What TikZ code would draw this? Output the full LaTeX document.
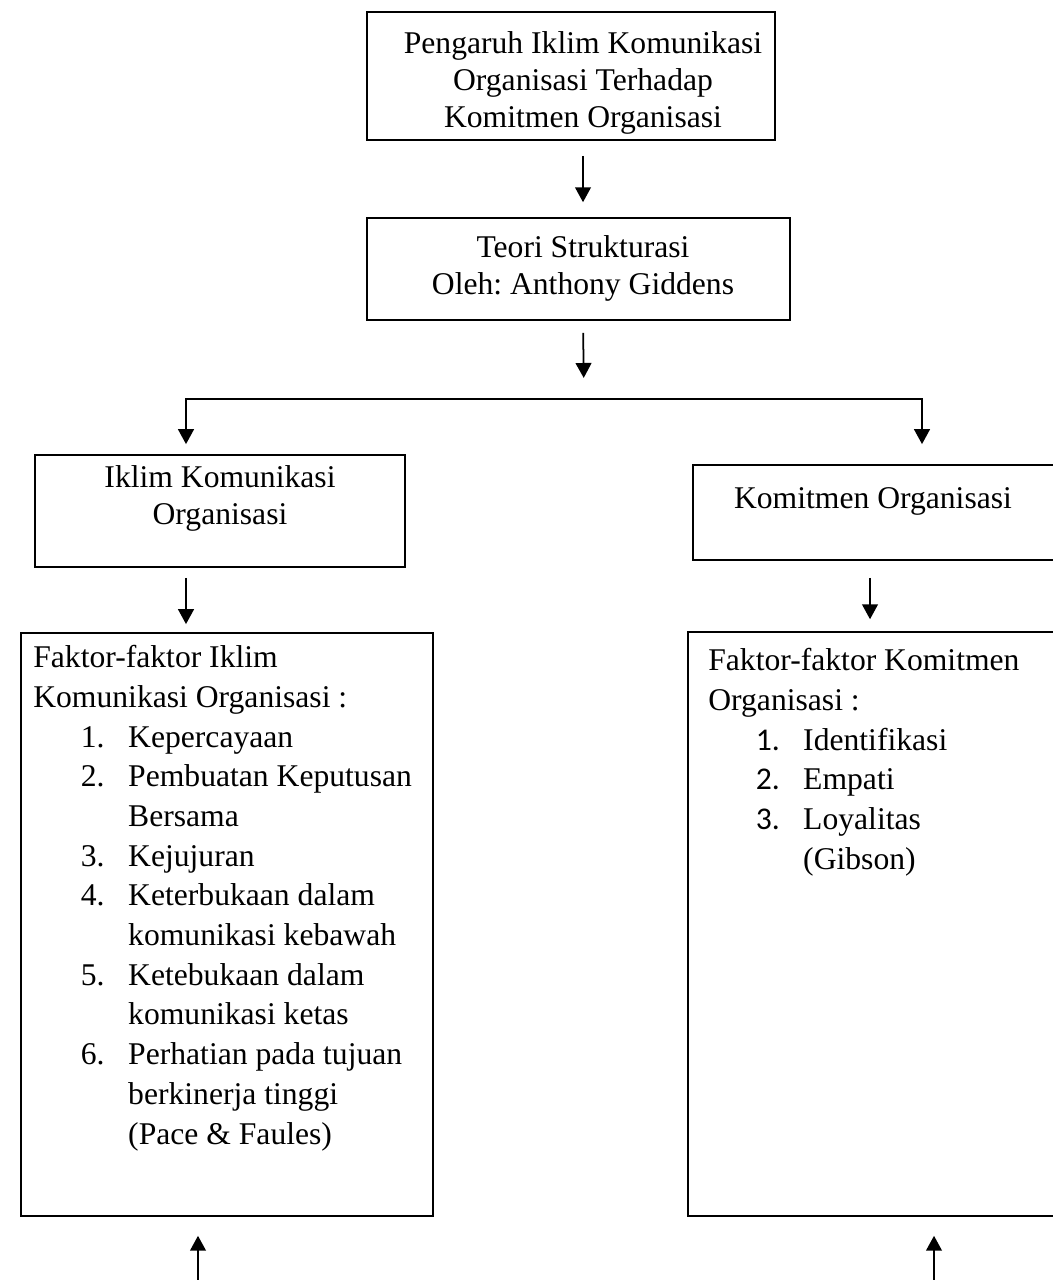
\documentclass[tikz,border=0pt]{standalone}
\usepackage{fontspec}
\setmainfont{Liberation Serif}
\newfontfamily\angkafont{Carlito}
\usetikzlibrary{arrows.meta}
\frenchspacing

\newcommand{\butir}[2]{\hspace*{27pt}\makebox[27pt][l]{#1}#2}
\newcommand{\lanjut}[1]{\hspace*{54pt}#1}

\begin{document}
\begin{tikzpicture}[x=0.02cm, y=-0.02cm,
  kotak/.style={draw, line width=1pt, inner sep=0pt},
  judul/.style={align=center, inner sep=0pt, font=\fontsize{18}{21}\selectfont},
  isi/.style={align=left, inner sep=0pt, font=\fontsize{18}{22.6}\selectfont},
  panah/.style={line width=1pt, -{Triangle[width=9pt, length=8.5pt]}}]

\useasboundingbox (0,0) rectangle (1053,1280);
\clip (0,0) rectangle (1053,1280);

\coordinate (tengah) at (583,0);
\coordinate (kiri) at (186,0);
\coordinate (kanan) at (922,0);
\coordinate (kananB) at (870,0);
\coordinate (cabang) at (584,399);

\node[kotak, minimum width=8.16cm, minimum height=2.56cm] (pengaruh) at (571,76) {};
\node[judul] (pengaruhTeks) at (583,83)
  {Pengaruh Iklim Komunikasi\\ Organisasi Terhadap\\ Komitmen Organisasi};
\node[kotak, minimum width=8.46cm, minimum height=2.04cm] (teori) at (578.5,269) {};
\node[judul] (teoriTeks) at (583,268) {Teori Strukturasi\\ Oleh: Anthony Giddens};

\node[kotak, minimum width=7.4cm, minimum height=2.24cm] (iklim) at (220,511) {};
\node[judul, anchor=north] (iklimTeks) at (220,465) {Iklim Komunikasi\\ Organisasi};
\node[kotak, minimum width=7.64cm, minimum height=1.9cm] (komitmen) at (884,512.5) {};
\node[judul, anchor=north] (komitmenTeks) at (873,487) {Komitmen Organisasi};

\node[kotak, minimum width=8.24cm, minimum height=11.66cm] (fakIklim) at (227,924.5) {};
\node[isi, anchor=north west] (fakIklimTeks) at (33,645) {Faktor-faktor Iklim\\
  Komunikasi Organisasi :\\
  \butir{1.}{Kepercayaan}\\
  \butir{2.}{Pembuatan Keputusan}\\
  \lanjut{Bersama}\\
  \butir{3.}{Kejujuran}\\
  \butir{4.}{Keterbukaan dalam}\\
  \lanjut{komunikasi kebawah}\\
  \butir{5.}{Ketebukaan dalam}\\
  \lanjut{komunikasi ketas}\\
  \butir{6.}{Perhatian pada tujuan}\\
  \lanjut{berkinerja tinggi}\\
  \lanjut{(Pace \& Faules)}};

\node[kotak, minimum width=7.74cm, minimum height=11.68cm] (fakKomitmen) at (881.5,924) {};
\node[isi, anchor=north west] (fakKomitmenTeks) at (708,648) {Faktor-faktor Komitmen\\
  Organisasi :\\
  \butir{{\angkafont 1.}}{Identifikasi}\\
  \butir{{\angkafont 2.}}{Empati}\\
  \butir{{\angkafont 3.}}{Loyalitas}\\
  \lanjut{(Gibson)}};

\draw[panah, shorten <=8.5pt, shorten >=8.5pt] (pengaruh.south -| tengah) -- (teori.north -| tengah);
\draw[panah, shorten <=6.8pt, shorten >=12pt] (teori.south -| tengah) -- (cabang);
\draw[line width=1pt, {Triangle[width=9pt, length=8.5pt]}-{Triangle[width=9pt, length=8.5pt]},
  shorten <=5.7pt, shorten >=11.4pt]
  (iklim.north -| kiri) -- (cabang -| kiri) -- (cabang -| kanan) -- (komitmen.north -| kanan);

\draw[panah, shorten <=5.7pt, shorten >=4.6pt] (iklim.south -| kiri) -- (fakIklim.north -| kiri);
\draw[panah, shorten <=9.7pt, shorten >=6.8pt] (komitmen.south -| kananB) -- (fakKomitmen.north -| kananB);

\coordinate (dasarKiri) at (198,1280);
\coordinate (dasarKanan) at (934,1280);
\draw[panah, shorten >=10.8pt] (dasarKiri) -- (dasarKiri |- fakIklim.south);
\draw[panah, shorten >=10.8pt] (dasarKanan) -- (dasarKanan |- fakKomitmen.south);

\end{tikzpicture}
\end{document}
